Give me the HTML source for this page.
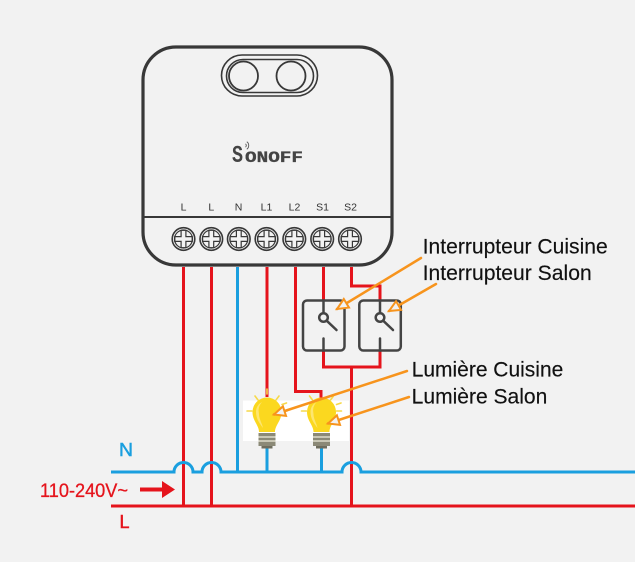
<!DOCTYPE html>
<html><head><meta charset="utf-8"><style>
html,body{margin:0;padding:0;background:#f2f2f2;}
svg{display:block;}
</style></head><body>
<svg width="635" height="562" viewBox="0 0 635 562" xmlns="http://www.w3.org/2000/svg">
<defs>
<marker id="ah" markerUnits="userSpaceOnUse" markerWidth="16" markerHeight="16" refX="11" refY="5" orient="auto" overflow="visible">
<path d="M0,0 L11,5 L0,10 Z" fill="#f2f2f2" stroke="#f7941d" stroke-width="2" stroke-linejoin="miter"/>
</marker>
</defs>
<rect width="635" height="562" fill="#f2f2f2"/>

<!-- device box -->
<rect x="143" y="47" width="249" height="218" rx="33" fill="#f2f2f2" stroke="#383838" stroke-width="3.2"/>
<line x1="143" y1="217" x2="392" y2="217" stroke="#383838" stroke-width="2"/>
<rect x="221.5" y="55" width="96" height="41" rx="20.5" fill="none" stroke="#383838" stroke-width="1.6"/>
<rect x="226.5" y="59.5" width="87" height="33" rx="16.5" fill="none" stroke="#383838" stroke-width="1.6"/>
<circle cx="243.5" cy="76" r="14.5" fill="none" stroke="#383838" stroke-width="1.8"/>
<circle cx="291" cy="76" r="14.5" fill="none" stroke="#383838" stroke-width="1.8"/>

<!-- logo -->
<text x="232" y="162" font-family="Liberation Mono, monospace" font-weight="bold" font-size="24" fill="#444" textLength="11" lengthAdjust="spacingAndGlyphs">S</text>
<text x="245" y="162" font-family="Liberation Mono, monospace" font-weight="bold" font-size="15.5" fill="#444" stroke="#444" stroke-width="0.3" textLength="58" lengthAdjust="spacingAndGlyphs">ONOFF</text>
<g fill="none" stroke="#555" stroke-width="0.9">
<path d="M245.5,143.8 A2.2,2.2 0 0 1 245.5,147.2"/>
<path d="M246.8,141.8 A4.5,4.5 0 0 1 246.8,149.2"/>
</g>

<!-- terminal labels -->
<g font-family="Liberation Sans, sans-serif" font-size="10.5" fill="#333" text-anchor="middle">
<text x="183.5" y="210.5">L</text>
<text x="211.3" y="210.5">L</text>
<text x="238.5" y="210.5">N</text>
<text x="266.5" y="210.5">L1</text>
<text x="294.5" y="210.5">L2</text>
<text x="322.5" y="210.5">S1</text>
<text x="350.5" y="210.5">S2</text>
</g>

<!-- screws -->
<g fill="none" stroke="#383838">
<g transform="translate(183.5,239)"><circle r="11.3" stroke-width="1.6"/><circle r="9" stroke-width="1.2"/><path d="M-2.4,-8.7 H2.4 V-2.4 H8.7 V2.4 H2.4 V8.7 H-2.4 V2.4 H-8.7 V-2.4 H-2.4 Z" stroke-width="1.2"/></g>
<g transform="translate(211.3,239)"><circle r="11.3" stroke-width="1.6"/><circle r="9" stroke-width="1.2"/><path d="M-2.4,-8.7 H2.4 V-2.4 H8.7 V2.4 H2.4 V8.7 H-2.4 V2.4 H-8.7 V-2.4 H-2.4 Z" stroke-width="1.2"/></g>
<g transform="translate(238.8,239)"><circle r="11.3" stroke-width="1.6"/><circle r="9" stroke-width="1.2"/><path d="M-2.4,-8.7 H2.4 V-2.4 H8.7 V2.4 H2.4 V8.7 H-2.4 V2.4 H-8.7 V-2.4 H-2.4 Z" stroke-width="1.2"/></g>
<g transform="translate(266.5,239)"><circle r="11.3" stroke-width="1.6"/><circle r="9" stroke-width="1.2"/><path d="M-2.4,-8.7 H2.4 V-2.4 H8.7 V2.4 H2.4 V8.7 H-2.4 V2.4 H-8.7 V-2.4 H-2.4 Z" stroke-width="1.2"/></g>
<g transform="translate(294.3,239)"><circle r="11.3" stroke-width="1.6"/><circle r="9" stroke-width="1.2"/><path d="M-2.4,-8.7 H2.4 V-2.4 H8.7 V2.4 H2.4 V8.7 H-2.4 V2.4 H-8.7 V-2.4 H-2.4 Z" stroke-width="1.2"/></g>
<g transform="translate(322.2,239)"><circle r="11.3" stroke-width="1.6"/><circle r="9" stroke-width="1.2"/><path d="M-2.4,-8.7 H2.4 V-2.4 H8.7 V2.4 H2.4 V8.7 H-2.4 V2.4 H-8.7 V-2.4 H-2.4 Z" stroke-width="1.2"/></g>
<g transform="translate(350,239)"><circle r="11.3" stroke-width="1.6"/><circle r="9" stroke-width="1.2"/><path d="M-2.4,-8.7 H2.4 V-2.4 H8.7 V2.4 H2.4 V8.7 H-2.4 V2.4 H-8.7 V-2.4 H-2.4 Z" stroke-width="1.2"/></g>
</g>

<!-- bulb white background -->
<rect x="243" y="400.5" width="106" height="40.5" fill="#ffffff"/>

<!-- wires -->
<g fill="none" stroke="#e5141c" stroke-width="3">
<line x1="183.5" y1="267" x2="183.5" y2="506"/>
<line x1="211.5" y1="267" x2="211.5" y2="506"/>
<line x1="267" y1="267" x2="267" y2="397"/>
<polyline points="295.5,267 295.5,391.5 321,391.5 321,400"/>
<line x1="323.5" y1="267" x2="323.5" y2="300.5"/>
<polyline points="351.5,267 351.5,286 380,286 380,300.5"/>
<polyline points="323.5,350.5 323.5,367 380,367 380,350.5"/>
<line x1="351.5" y1="367" x2="351.5" y2="506"/>
<line x1="111" y1="506" x2="635" y2="506"/>
</g>
<g fill="none" stroke="#1a9fdf" stroke-width="3">
<line x1="237.5" y1="267" x2="237.5" y2="472"/>
<line x1="267" y1="447" x2="267" y2="472"/>
<line x1="321.5" y1="447" x2="321.5" y2="472"/>
<path d="M111,472 H174 A9.5,9.5 0 0 1 193,472 H202 A9.5,9.5 0 0 1 221,472 H342 A9.5,9.5 0 0 1 361,472 H635"/>
</g>

<!-- switches -->
<g fill="none" stroke="#444" stroke-width="2.5" stroke-linecap="round">
<rect x="303" y="300.5" width="41.5" height="50" rx="4"/>
<line x1="323.5" y1="300.5" x2="323.5" y2="313"/>
<circle cx="323.5" cy="317.5" r="4.3"/>
<line x1="326.8" y1="320.8" x2="336.5" y2="330"/>
<line x1="323.5" y1="338.5" x2="323.5" y2="350.5"/>
<rect x="359.3" y="300.5" width="41.5" height="50" rx="4"/>
<line x1="380" y1="300.5" x2="380" y2="313"/>
<circle cx="380" cy="317.5" r="4.3"/>
<line x1="383.3" y1="320.8" x2="393" y2="330"/>
<line x1="380" y1="338.5" x2="380" y2="350.5"/>
</g>

<!-- bulbs -->
<g>
<g stroke="#f6d94a" stroke-width="1.6" stroke-linecap="round">
<line x1="247" y1="411" x2="252" y2="411"/>
<line x1="255" y1="396" x2="258" y2="400"/>
<line x1="267" y1="389" x2="267" y2="394"/>
<line x1="279" y1="396" x2="276" y2="400"/>
<line x1="282" y1="404.5" x2="286.5" y2="403"/>
<line x1="282" y1="411" x2="287" y2="411"/>
</g>
<path d="M259,432 C259,425 252.5,421 252.5,412 A14.5,14.5 0 0 1 281.5,412 C281.5,421 275,425 275,432 Z" fill="#fbd81f"/>
<path d="M256,412 A11,11 0 0 1 262,402 A13,13 0 0 0 259,414 C259,419 262,423 263,428 C260,424 256,419 256,412 Z" fill="#fde66f"/>
<rect x="258.5" y="433" width="17" height="13" fill="#8b8977"/>
<rect x="258.5" y="436" width="17" height="2" fill="#c9c7b6"/>
<rect x="258.5" y="440" width="17" height="2" fill="#c9c7b6"/>
<rect x="261.5" y="446" width="11" height="2.5" fill="#6f6d5e"/>
</g>
<g transform="translate(54.5,0)">
<g stroke="#f6d94a" stroke-width="1.6" stroke-linecap="round">
<line x1="247" y1="411" x2="252" y2="411"/>
<line x1="255" y1="396" x2="258" y2="400"/>
<line x1="279" y1="396" x2="276" y2="400"/>
<line x1="282" y1="404.5" x2="286.5" y2="403"/>
<line x1="282" y1="411" x2="287" y2="411"/>
</g>
<path d="M259,432 C259,425 252.5,421 252.5,412 A14.5,14.5 0 0 1 281.5,412 C281.5,421 275,425 275,432 Z" fill="#fbd81f"/>
<path d="M256,412 A11,11 0 0 1 262,402 A13,13 0 0 0 259,414 C259,419 262,423 263,428 C260,424 256,419 256,412 Z" fill="#fde66f"/>
<rect x="258.5" y="433" width="17" height="13" fill="#8b8977"/>
<rect x="258.5" y="436" width="17" height="2" fill="#c9c7b6"/>
<rect x="258.5" y="440" width="17" height="2" fill="#c9c7b6"/>
<rect x="261.5" y="446" width="11" height="2.5" fill="#6f6d5e"/>
</g>

<!-- orange pointers -->
<g stroke="#f7941d" stroke-width="2.5" fill="none" stroke-linecap="round">
<line x1="421" y1="258" x2="337" y2="309" marker-end="url(#ah)"/>
<line x1="436" y1="284" x2="389" y2="311" marker-end="url(#ah)"/>
<line x1="407" y1="371" x2="274" y2="414.5" marker-end="url(#ah)"/>
<line x1="409" y1="397" x2="328" y2="423.5" marker-end="url(#ah)"/>
</g>

<!-- labels -->
<g font-family="Liberation Sans, sans-serif" font-size="21" fill="#111" stroke="#111" stroke-width="0.15">
<text x="422.7" y="253.3" textLength="185" lengthAdjust="spacingAndGlyphs">Interrupteur Cuisine</text>
<text x="422.7" y="280" textLength="169" lengthAdjust="spacingAndGlyphs">Interrupteur Salon</text>
<text x="411.7" y="376.7" textLength="151.6" lengthAdjust="spacingAndGlyphs">Lumière Cuisine</text>
<text x="411.7" y="403.3" textLength="135.6" lengthAdjust="spacingAndGlyphs">Lumière Salon</text>
</g>

<!-- N / L / voltage -->
<text x="119" y="456" font-family="Liberation Sans, sans-serif" font-size="18" fill="#1a9fdf" stroke="#1a9fdf" stroke-width="0.5" textLength="14" lengthAdjust="spacingAndGlyphs">N</text>
<text x="119.5" y="528" font-family="Liberation Sans, sans-serif" font-size="18" fill="#e5141c" stroke="#e5141c" stroke-width="0.5" textLength="10" lengthAdjust="spacingAndGlyphs">L</text>
<text x="40" y="497" font-family="Liberation Sans, sans-serif" font-size="19" fill="#e5141c" stroke="#e5141c" stroke-width="0.3" textLength="88" lengthAdjust="spacingAndGlyphs">110-240V~</text>
<line x1="140" y1="489.5" x2="164" y2="489.5" stroke="#e5141c" stroke-width="4"/>
<polygon points="162,481 175,489.5 162,498" fill="#e5141c"/>
</svg>
</body></html>
